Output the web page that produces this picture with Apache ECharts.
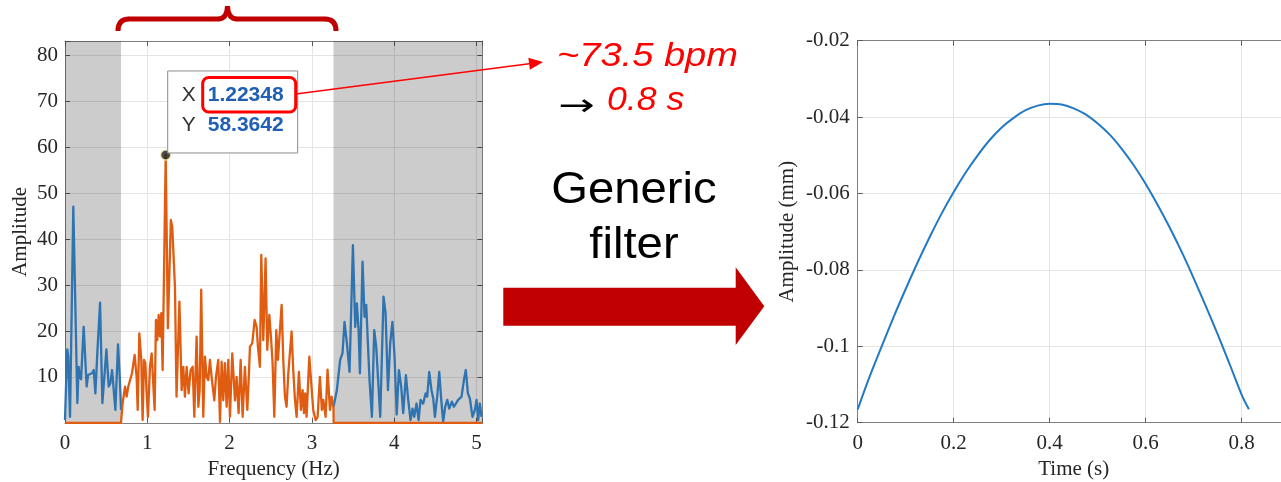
<!DOCTYPE html>
<html><head><meta charset="utf-8">
<script src="https://cdn.jsdelivr.net/npm/echarts@6/dist/echarts.min.js"></script>
<style>html,body{margin:0;padding:0;background:#fff}#c{width:1281px;height:482px}</style>
</head><body><div id="c"></div>
<script>
// ---------- data ----------
// Original spectrum (blue), outside the pass band: [Hz, amplitude]
const blueLow = [[0.000,0.6],[0.016,10],[0.028,16],[0.040,14.4],[0.061,1.3],[0.101,47.1],[0.150,4.3],[0.166,12.2],[0.178,10],[0.195,9.5],[0.227,20.9],[0.263,7.9],[0.280,10.4],[0.304,10],[0.328,10.8],[0.349,11.5],[0.369,6.4],[0.395,16],[0.426,26.2],[0.454,4.3],[0.478,10],[0.503,16],[0.531,7.9],[0.551,8.6],[0.572,11.5],[0.588,11.9],[0.612,2.8],[0.644,17.1],[0.665,10],[0.681,2.8]];
const blueHigh = [[3.262,3.5],[3.303,7.1],[3.343,13.7],[3.372,15.2],[3.396,22],[3.425,17.3],[3.457,11.1],[3.498,38.7],[3.526,20.9],[3.546,26],[3.567,20.2],[3.583,10.8],[3.615,35.1],[3.639,23.1],[3.660,25.7],[3.680,17.3],[3.700,9.3],[3.729,1.3],[3.757,20.2],[3.781,16.6],[3.801,17],[3.830,1.3],[3.870,27.5],[3.895,23.9],[3.924,7.1],[3.951,17.3],[3.978,22],[4.004,14.4],[4.030,1.8],[4.057,11.5],[4.085,7.9],[4.109,2.1],[4.142,10.4],[4.170,5.0],[4.198,0.6],[4.223,3.1],[4.243,1.3],[4.271,4.2],[4.296,0.6],[4.320,5.0],[4.352,4.2],[4.381,6.4],[4.401,5.7],[4.425,11.1],[4.453,7.1],[4.474,5.3],[4.494,1.3],[4.522,5.7],[4.547,11.1],[4.571,5.0],[4.595,0.2],[4.619,3.5],[4.644,5.0],[4.668,3.1],[4.700,4.6],[4.725,3.5],[4.749,4.2],[4.777,5.0],[4.818,5.7],[4.850,9.7],[4.870,11.5],[4.895,6.4],[4.919,5.3],[4.951,1.3],[4.980,2.8],[5.000,5.0],[5.020,0.6],[5.040,4.2],[5.061,1.3]];
// Band-pass filtered spectrum (orange): zero outside the band
const orangeBand = [[0,0],[0.680,0],[0.700,4.2],[0.729,7.9],[0.749,5.7],[0.769,7.9],[0.789,7.9],[0.814,10.8],[0.846,14.8],[0.870,10.0],[0.883,2.8],[0.903,19.5],[0.927,13.7],[0.943,0.6],[0.960,13.7],[0.976,13.0],[0.992,6.4],[1.008,1.3],[1.032,12.2],[1.053,15.1],[1.073,15.1],[1.089,2.8],[1.105,22.4],[1.121,18.0],[1.138,23.5],[1.154,18.8],[1.170,23.9],[1.186,11.5],[1.22348,58.3642],[1.250,20.6],[1.286,44.2],[1.303,42.7],[1.336,29.6],[1.355,5.7],[1.390,26.4],[1.417,7.1],[1.437,12.2],[1.457,5.7],[1.478,12.2],[1.502,6.4],[1.526,11.5],[1.551,12.2],[1.571,1.3],[1.599,18.8],[1.620,3.5],[1.636,7.1],[1.655,29.0],[1.680,1.3],[1.700,14.4],[1.721,10.0],[1.741,9.3],[1.761,13.7],[1.785,9.3],[1.814,4.9],[1.834,10.0],[1.862,13.7],[1.883,0.2],[1.903,13.3],[1.923,4.9],[1.943,13.0],[1.964,3.5],[1.984,13.7],[2.004,1.3],[2.032,15.1],[2.065,4.9],[2.085,10.0],[2.109,2.1],[2.134,13.7],[2.158,1.3],[2.186,12.2],[2.215,2.8],[2.235,10.8],[2.247,16.6],[2.275,17.3],[2.304,22.4],[2.328,20.9],[2.344,16.6],[2.368,12.2],[2.385,36.6],[2.409,18.0],[2.437,35.8],[2.457,15.9],[2.482,23.5],[2.502,18.8],[2.522,13.0],[2.543,1.3],[2.567,20.2],[2.587,13.7],[2.632,25.7],[2.652,13.7],[2.672,5.7],[2.692,3.5],[2.713,10.8],[2.753,19.9],[2.773,11.5],[2.794,5.0],[2.814,1.3],[2.842,11.1],[2.866,2.8],[2.887,7.1],[2.903,2.1],[2.919,6.4],[2.935,1.3],[2.968,14.4],[2.992,8.6],[3.016,2.8],[3.045,0.6],[3.069,1.3],[3.097,10.0],[3.121,2.8],[3.138,5.0],[3.166,1.3],[3.190,11.6],[3.219,2.8],[3.239,5.7],[3.259,3.5],[3.262,3.0],[3.264,0],[5.07,0]];
const peakPoint = [1.22348, 58.3642];
const peakLabels = ['1.22348', '58.3642'];
const stopBands = [[0, 0.681], [3.262, 5.07]];
const freqTickLabels = ['0','1','2','3','4','5'];
const ampTickLabels = ['10','20','30','40','50','60','70','80'];
// Filtered time-domain pulse (right)
const pulseTime = [0,0.025,0.05,0.075,0.1,0.125,0.15,0.175,0.2,0.225,0.25,0.275,0.3,0.325,0.35,0.375,0.4,0.425,0.45,0.475,0.5,0.525,0.55,0.575,0.6,0.625,0.65,0.675,0.7,0.725,0.75,0.775,0.8,0.815];
const pulseAmp = [-0.1165,-0.1079,-0.1000,-0.0923,-0.0850,-0.0780,-0.0714,-0.0652,-0.0596,-0.0545,-0.0500,-0.0460,-0.0427,-0.0402,-0.0382,-0.0370,-0.0365,-0.0367,-0.0377,-0.0393,-0.0417,-0.0446,-0.0483,-0.0526,-0.0575,-0.0630,-0.0689,-0.0753,-0.0822,-0.0894,-0.0969,-0.1047,-0.1127,-0.1165];
const timeTickLabels = ['0','0.2','0.4','0.6','0.8'];
const mmTickLabels = ['-0.12','-0.1','-0.08','-0.06','-0.04','-0.02'];
const annotBpm = '~73.5 bpm';
const annotPeriod = '0.8 s';
const annotFilter = ['Generic', 'filter'];

// ---------- styles ----------
const SERIF = '"Liberation Serif","Times New Roman",serif';
const SANS = '"Liberation Sans",Arial,sans-serif';
const AX = '#808080', TXT = '#262626';
const BLUE = '#2f73b0', ORANGE = '#e05c10', BLUE2 = '#2279c4', DARKRED = '#c00000', RED = '#ff0000';

function fmt(list) {
  return v => { const s = String(parseFloat(Number(v).toFixed(6))); return list.includes(s) ? s : ''; };
}
function mainAxis(extra) {
  return Object.assign({
    type: 'value',
    axisLine: { show: true, onZero: false, lineStyle: { color: AX, width: 1 } },
    axisTick: { show: true, inside: true, length: 5, lineStyle: { color: '#5a5a5a' } },
    splitLine: { show: true, lineStyle: { color: '#e4e4e4', width: 1 } },
    nameLocation: 'middle',
    nameTextStyle: { fontFamily: SERIF, fontSize: 21, color: TXT },
  }, extra);
}
function boxAxis(extra) {
  return Object.assign({
    type: 'value',
    axisLine: { show: true, onZero: false, lineStyle: { color: AX, width: 1 } },
    axisTick: { show: true, inside: true, length: 5, lineStyle: { color: '#5a5a5a' } },
    axisLabel: { show: false },
    splitLine: { show: false },
  }, extra);
}
const lab = (list, margin) => ({ formatter: fmt(list), fontFamily: SERIF, fontSize: 21, color: TXT, margin: margin, showMaxLabel: true, showMinLabel: true });

const chart = echarts.init(document.getElementById('c'), null, { renderer: 'canvas' });
const option = {
  animation: false,
  backgroundColor: '#ffffff',
  grid: [
    { left: 65, top: 41, width: 417.3, height: 381.8, outerBoundsMode: 'none', containLabel: false },
    { left: 857.7, top: 40.7, width: 432, height: 382, outerBoundsMode: 'none', containLabel: false },
  ],
  xAxis: [
    mainAxis({ gridIndex: 0, min: 0, max: 5.07, interval: 1, position: 'bottom', name: 'Frequency (Hz)', nameGap: 34, axisLabel: lab(freqTickLabels, 10) }),
    boxAxis({ gridIndex: 0, min: 0, max: 5.07, interval: 1, position: 'top' }),
    mainAxis({ gridIndex: 1, min: 0, max: 0.9, interval: 0.2, position: 'bottom', name: 'Time (s)', nameGap: 34, axisLabel: lab(timeTickLabels, 10) }),
    boxAxis({ gridIndex: 1, min: 0, max: 0.9, interval: 0.2, position: 'top' }),
  ],
  yAxis: [
    mainAxis({ gridIndex: 0, min: 0, max: 83.2, interval: 10, position: 'left', name: 'Amplitude', nameGap: 34, axisLabel: lab(ampTickLabels, 7) }),
    boxAxis({ gridIndex: 0, min: 0, max: 83.2, interval: 10, position: 'right' }),
    mainAxis({ gridIndex: 1, min: -0.12, max: -0.02, interval: 0.02, position: 'left', name: 'Amplitude (mm)', nameGap: 60, axisLabel: lab(mmTickLabels, 8) }),
  ],
  series: [
    { type: 'line', name: 'shade', xAxisIndex: 0, yAxisIndex: 0, data: [], silent: true, z: 1,
      markArea: { silent: true, itemStyle: { color: 'rgba(0,0,0,0.2)' }, label: { show: false },
        data: stopBands.map(b => [{ xAxis: b[0] }, { xAxis: b[1] }]) } },
    { type: 'line', name: 'raw low', xAxisIndex: 0, yAxisIndex: 0, data: blueLow, showSymbol: false, z: 3,
      lineStyle: { color: BLUE, width: 2.3, join: 'round' }, itemStyle: { color: BLUE } },
    { type: 'line', name: 'raw high', xAxisIndex: 0, yAxisIndex: 0, data: blueHigh, showSymbol: false, z: 3,
      lineStyle: { color: BLUE, width: 2.3, join: 'round' }, itemStyle: { color: BLUE } },
    { type: 'line', name: 'filtered', xAxisIndex: 0, yAxisIndex: 0, data: orangeBand, showSymbol: false, z: 4,
      lineStyle: { color: ORANGE, width: 2.3, join: 'round' }, itemStyle: { color: ORANGE } },
    { type: 'scatter', name: 'peak', xAxisIndex: 0, yAxisIndex: 0, data: [peakPoint], symbolSize: 10, z: 6,
      itemStyle: { color: '#1c1c1c', borderColor: '#f3eeb8', borderWidth: 1.5 } },
    { type: 'line', name: 'pulse', xAxisIndex: 2, yAxisIndex: 2, data: pulseTime.map((t, i) => [t, pulseAmp[i]]),
      smooth: 0.3, showSymbol: false, z: 3, lineStyle: { color: BLUE2, width: 2 }, itemStyle: { color: BLUE2 } },
  ],
};
chart.setOption(option);

// ---------- annotations ----------
const P = chart.convertToPixel({ gridIndex: 0 }, peakPoint);
const px = P[0], py = P[1];
const tipL = px + 2, tipT = py - 84;
const lineStart = [px + 130, py - 61];
const arrowTip = [543, 62];
const dx = arrowTip[0] - lineStart[0], dy = arrowTip[1] - lineStart[1];
const len = Math.hypot(dx, dy), ux = dx / len, uy = dy / len;
const hb = [arrowTip[0] - ux * 14, arrowTip[1] - uy * 14];

function txt(x, y, text, font, fill, align, extra) {
  return Object.assign({ type: 'text', x: x, y: y, z: 100,
    style: { x: 0, y: 0, text: text, font: font, fill: fill, align: align || 'left', verticalAlign: 'middle',
      textAlign: align || 'left', textVerticalAlign: 'middle' } }, extra || {});
}
const brace = { fill: 'none', stroke: DARKRED, lineWidth: 5, lineCap: 'butt' };

chart.setOption({
  graphic: [
    // bracket over the pass band
    { type: 'bezierCurve', z: 100, shape: { x1: 118, y1: 31, cpx1: 118, cpy1: 19, x2: 129, y2: 19 }, style: brace },
    { type: 'line', z: 100, shape: { x1: 128.5, y1: 19, x2: 218.5, y2: 19 }, style: brace },
    { type: 'bezierCurve', z: 100, shape: { x1: 218, y1: 19, cpx1: 227, cpy1: 19, x2: 227.5, y2: 6 }, style: brace },
    { type: 'bezierCurve', z: 100, shape: { x1: 227.5, y1: 6, cpx1: 228, cpy1: 19, x2: 237, y2: 19 }, style: brace },
    { type: 'line', z: 100, shape: { x1: 236.5, y1: 19, x2: 325.5, y2: 19 }, style: brace },
    { type: 'bezierCurve', z: 100, shape: { x1: 325, y1: 19, cpx1: 336, cpy1: 19, x2: 336, y2: 31 }, style: brace },
    // data tip box
    { type: 'rect', z: 90, shape: { x: tipL, y: tipT, width: 130, height: 82 }, style: { fill: '#ffffff', stroke: '#8c8c8c', lineWidth: 1 } },
    txt(tipL + 14, py - 60, 'X', '21px ' + SANS, '#333333'),
    txt(tipL + 40, py - 60, peakLabels[0], 'bold 21px ' + SANS, '#1f5fb4'),
    txt(tipL + 14, py - 30, 'Y', '21px ' + SANS, '#333333'),
    txt(tipL + 40, py - 30, peakLabels[1], 'bold 21px ' + SANS, '#1f5fb4'),
    { type: 'rect', z: 101, shape: { x: tipL + 35, y: py - 77.5, width: 93, height: 34.5, r: 6 }, style: { fill: 'none', stroke: RED, lineWidth: 3 } },
    // red pointer to the bpm text
    { type: 'line', z: 101, shape: { x1: lineStart[0], y1: lineStart[1], x2: hb[0], y2: hb[1] }, style: { stroke: RED, lineWidth: 1.5 } },
    { type: 'polygon', z: 101, shape: { points: [arrowTip, [hb[0] - uy * 6, hb[1] + ux * 6], [hb[0] + uy * 6, hb[1] - ux * 6]] }, style: { fill: RED } },
    txt(557, 57, annotBpm, 'italic 34px ' + SANS, RED, 'left', { scaleX: 1.12 }),
    txt(558, 107, '→', '30px "DejaVu Sans",sans-serif', '#000000', 'left', { scaleX: 1.45 }),
    txt(607, 101, annotPeriod, 'italic 33px ' + SANS, RED, 'left', { scaleX: 1.08 }),
    txt(634, 190.5, annotFilter[0], '45px ' + SANS, '#000000', 'center', { scaleX: 1.05 }),
    txt(634, 245.5, annotFilter[1], '45px ' + SANS, '#000000', 'center', { scaleX: 1.05 }),
    // big arrow
    { type: 'polygon', z: 100, shape: { points: [[503.3,287.7],[735.7,287.7],[735.7,267.3],[764.3,306.3],[735.7,345],[735.7,325.7],[503.3,325.7]] }, style: { fill: DARKRED } },
  ]
});
</script></body></html>
